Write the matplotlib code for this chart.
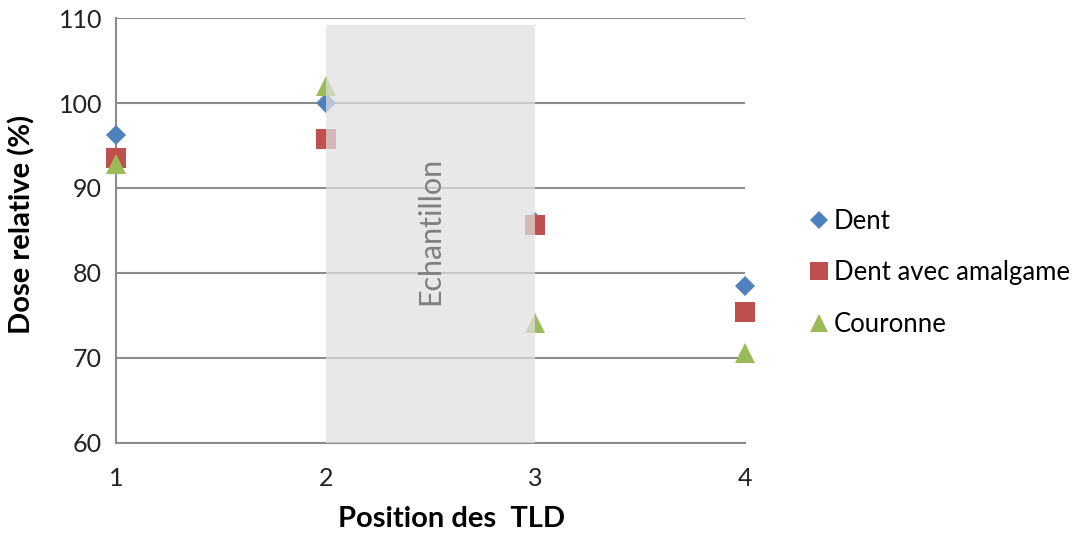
import matplotlib.pyplot as plt
import numpy as np

plt.rcParams['font.family'] = ['Lato', 'DejaVu Sans']

positions = [1, 2, 3, 4]
dent = [96.2, 100.0, 86.0, 78.5]
dent_amalgame = [93.5, 95.8, 85.6, 75.4]
couronne = [92.8, 102.0, 74.1, 70.6]

series = [
    ("Dent", dent, 'D', '#4F81BD', 10),
    ("Dent avec amalgame", dent_amalgame, 's', '#C0504D', 14),
    ("Couronne", couronne, '^', '#9BBB59', 14.5),
]

fig = plt.figure(figsize=(10.89, 5.33), dpi=100)
ax = fig.add_axes([0.1065, 0.1689, 0.5776, 0.7973])

for name, vals, mk, col, ms in series:
    ax.plot(positions, vals, linestyle='none', marker=mk, color=col,
            markersize=ms, markeredgewidth=0, label=name, zorder=3, clip_on=False)

# shaded sample region drawn over the markers
ax.axvspan(2, 3, ymin=0, ymax=(109.2 - 60) / 50, facecolor='#e0e0e0', alpha=0.72,
           edgecolor='none', zorder=4)
ax.text(2.5, 85, "Echantillon", rotation=90, ha='center', va='center',
        fontsize=22, color='#7f7f7f', zorder=5)

ax.set_xlim(1, 4)
ax.set_ylim(60, 110)
ax.set_xticks(positions)
ax.set_yticks(np.arange(60, 111, 10))
ax.tick_params(length=0, labelsize=18, colors='#222222')
ax.tick_params(axis='y', pad=10)
ax.tick_params(axis='x', pad=17)
ax.grid(axis='y', color='#8c8c8c', linewidth=1.5)
ax.set_axisbelow(True)
for s in ['top', 'right']:
    ax.spines[s].set_visible(False)
for s in ['left', 'bottom']:
    ax.spines[s].set_color('#8c8c8c')
    ax.spines[s].set_linewidth(1.5)

ax.set_xlabel("Position des  TLD", fontsize=21, fontweight='bold')
ax.set_ylabel("Dose relative (%)", fontsize=21, fontweight='bold')
ax.xaxis.set_label_coords(0.534, -0.148)
ax.yaxis.set_label_coords(-0.128, 0.515)

ax.legend(loc='center left', bbox_to_anchor=(1.06, 0.40), frameon=False,
          fontsize=18.5, labelspacing=1.05, handletextpad=0.1, handlelength=1.0,
          markerscale=0.9)

fig.savefig("out.png", dpi=100)
